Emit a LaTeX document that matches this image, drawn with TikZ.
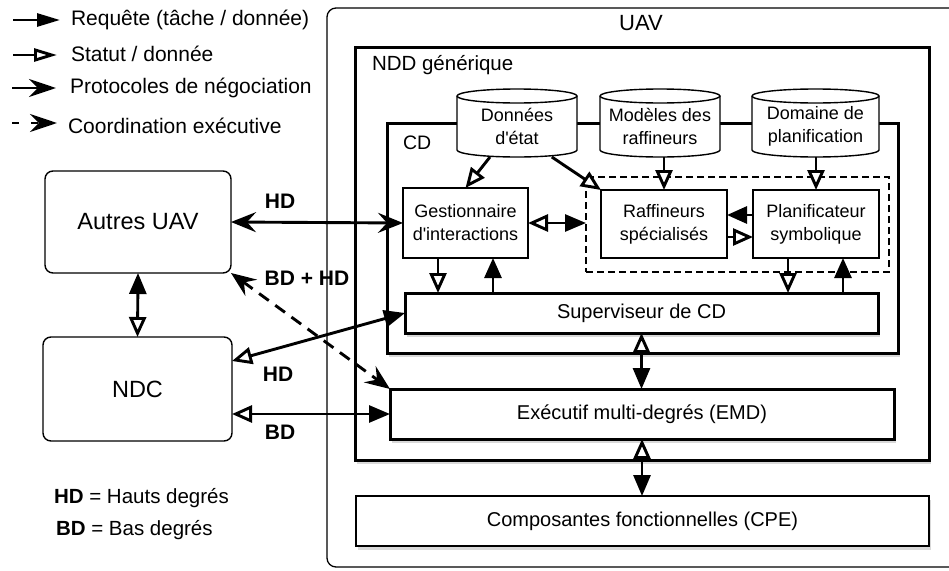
\documentclass[tikz,border=0pt]{standalone}
\usepackage{fontspec}
\newfontfamily\lsans{Liberation Sans}
\usetikzlibrary{arrows.meta,shadows,calc}
\begin{document}
\begin{tikzpicture}[x=1pt,y=-1pt,
  every node/.style={inner sep=0pt, outer sep=0pt},
  shd/.style={drop shadow={shadow xshift=1.5pt, shadow yshift=-4pt, opacity=0.3}},
  bigbox/.style={draw, line width=3pt, fill=white, shd},
  box/.style={draw, line width=2.8pt, fill=white, align=center, font=\lsans\fontsize{18}{23}\selectfont},
  wide/.style={draw, line width=3pt, fill=white, shd, font=\lsans\fontsize{20}{24}\selectfont},
  ext/.style={draw, line width=1.4pt, rounded corners=8pt, fill=white, font=\lsans\fontsize{23.5}{28}\selectfont},
  cyl/.style={draw, line width=1.4pt, fill=white},
  cyltext/.style={align=center, font=\lsans\fontsize{18}{23}\selectfont, minimum width=120pt, minimum height=62pt},
  conn/.style={line width=2.9pt},
  toreq/.style={arrows={-Triangle[length=20pt,width=17pt]}},
  tosta/.style={arrows={-Triangle[open,length=20pt,width=17pt,fill=white]}},
  stareq/.style={arrows={Triangle[open,length=20pt,width=17pt,fill=white]-Triangle[length=21pt,width=17pt]}},
  reqsta/.style={arrows={Triangle[length=21pt,width=17pt]-Triangle[open,length=20pt,width=17pt,fill=white]}},
  negneg/.style={arrows={Stealth[length=25pt,width=20pt,inset=9pt]-Stealth[length=25pt,width=20pt,inset=9pt]}},
  legreq/.style={arrows={-Triangle[length=23pt,width=13pt]}},
  legsta/.style={arrows={-Triangle[open,length=23pt,width=13pt,fill=white]}},
  legneg/.style={arrows={-Stealth[length=27pt,width=18pt,inset=9pt]}},
  lbl/.style={font=\lsans\bfseries\fontsize{21}{25}\selectfont},
  leg/.style={anchor=west, font=\lsans\fontsize{21}{25}\selectfont},
]
\useasboundingbox (0,0) rectangle (949,570);

% UAV container
\node[draw, line width=1.3pt, rounded corners=9pt, minimum width=648pt, minimum height=559pt] (uav) at (651,287.5) {};
\node[font=\lsans\fontsize{22}{26}\selectfont] (uavlbl) at (641,23) {UAV};

% NDD
\node[bigbox, minimum width=574pt, minimum height=413pt] (ndd) at (642,253.5) {};
\node[anchor=west, font=\lsans\fontsize{20.5}{24}\selectfont] (nddlbl) at (372,65) {NDD générique};

% CD
\node[bigbox, minimum width=511pt, minimum height=230pt] (cd) at (642.5,238) {};
\node[anchor=west, font=\lsans\fontsize{19.5}{24}\selectfont] (cdlbl) at (403,143) {CD};

% cylinders
\draw[cyl] (457,96) -- (457,150) arc[start angle=180,end angle=360,x radius=60pt,y radius=7pt] -- (577,96) arc[start angle=0,end angle=180,x radius=60pt,y radius=7pt] -- cycle;
\draw[line width=1.4pt] (457,96) arc[start angle=180,end angle=360,x radius=60pt,y radius=7pt];
\node[cyltext] (don) at (517,126) {Données\\d'état};

\draw[cyl] (600,96) -- (600,150) arc[start angle=180,end angle=360,x radius=60pt,y radius=7pt] -- (720,96) arc[start angle=0,end angle=180,x radius=60pt,y radius=7pt] -- cycle;
\draw[line width=1.4pt] (600,96) arc[start angle=180,end angle=360,x radius=60pt,y radius=7pt];
\node[cyltext] (mod) at (660,126) {Modèles des\\raffineurs};

\draw[cyl] (752,96) -- (752,150) arc[start angle=180,end angle=360,x radius=63.5pt,y radius=7pt] -- (879,96) arc[start angle=0,end angle=180,x radius=63.5pt,y radius=7pt] -- cycle;
\draw[line width=1.4pt] (752,96) arc[start angle=180,end angle=360,x radius=63.5pt,y radius=7pt];
\node[cyltext, minimum width=127pt] (dom) at (815.5,126) {Domaine de\\planification};

% inner boxes
\node[draw, dash pattern=on 7pt off 4pt, line width=1.4pt, minimum width=303pt, minimum height=95pt] (dsh) at (737.5,224.5) {};
\node[box, minimum width=125pt, minimum height=70pt] (gest) at (465.5,223) {Gestionnaire\\d'interactions};
\node[box, minimum width=126pt, minimum height=68pt] (raff) at (664,224) {Raffineurs\\spécialisés};
\node[box, minimum width=126pt, minimum height=68pt] (plan) at (816,224) {Planificateur\\symbolique};

\node[wide, minimum width=473pt, minimum height=40pt] (sup) at (641.5,313) {Superviseur de CD};
\node[wide, minimum width=504pt, minimum height=50pt] (exe) at (642,414) {Exécutif multi-degrés (EMD)};
\node[wide, line width=2pt, minimum width=573pt, minimum height=50pt] (comp) at (642.5,521) {Composantes fonctionnelles (CPE)};

% external nodes
\node[ext, minimum width=186pt, minimum height=102pt] (autres) at (138,222) {Autres UAV};
\node[ext, minimum width=189pt, minimum height=104pt] (ndc) at (137.5,389) {NDC};

% connectors outside
\draw[conn,negneg] (autres.east) -- (gest.west);
\draw[conn,negneg,dash pattern=on 12pt off 8pt] (autres.south east) -- (exe.north west);
\draw[conn,stareq] ([yshift=28pt]ndc.east) -- (sup.west);
\draw[conn,stareq] (exe.west -| ndc.east) -- (exe.west);
\draw[conn,reqsta] (autres.south) -- (ndc.north);

% connectors inside
\draw[conn,tosta] ($(don.south west)!0.275!(don.south east)$) -- (gest.north);
\draw[conn,tosta] ($(don.south west)!0.79!(don.south east)$) -- (raff.north west);
\draw[conn,tosta] (raff.north |- mod.south) -- (raff.north);
\draw[conn,tosta] (plan.north |- dom.south) -- (plan.north);
\draw[conn,stareq] (gest.east) -- (gest.east -| dsh.west);
\draw[conn,toreq] ([yshift=9pt]plan.west) -- ([yshift=9pt]raff.east);
\draw[conn,tosta] ([yshift=-13pt]raff.east) -- ([yshift=-13pt]plan.west);

\coordinate (g1) at ([xshift=35pt]gest.south west);
\coordinate (g2) at ([xshift=90pt]gest.south west);
\coordinate (p1) at ([xshift=35pt]plan.south west);
\coordinate (p2) at ([xshift=90pt]plan.south west);
\draw[conn,tosta] (g1) -- (g1 |- sup.north);
\draw[conn,toreq] (g2 |- sup.north) -- (g2);
\draw[conn,tosta] (p1) -- (p1 |- sup.north);
\draw[conn,toreq] (p2 |- sup.north) -- (p2);
\draw[conn,stareq] (sup.south) -- (sup.south |- exe.north);
\draw[conn,stareq] (exe.south) -- (exe.south |- comp.north);

% labels
\node[lbl] (lhd1) at (280,201) {HD};
\node[lbl] (lbdhd) at (307,278) {BD + HD};
\node[lbl] (lhd2) at (278,374) {HD};
\node[lbl] (lbd) at (280,432) {BD};

% legend top-left
\coordinate (l1a) at (13,20); \coordinate (l1b) at (60,20);
\coordinate (l2a) at (13,55); \coordinate (l2b) at (57,55);
\coordinate (l3a) at (12,88); \coordinate (l3b) at (56,88);
\coordinate (l4a) at (12,123); \coordinate (l4b) at (57,123);
\draw[conn,legreq] (l1a) -- (l1b);
\draw[conn,legsta] (l2a) -- (l2b);
\draw[conn,legneg] (l3a) -- (l3b);
\draw[conn,legneg,dash pattern=on 7pt off 12pt] (l4a) -- (l4b);
\node[leg] (t1) at (71,20) {Requête (tâche / donnée)};
\node[leg] (t2) at (71,54) {Statut / donnée};
\node[leg] (t3) at (70,88) {Protocoles de négociation};
\node[leg] (t4) at (68,126) {Coordination exécutive};

% legend bottom-left
\node[leg, font=\lsans\fontsize{20.5}{24}\selectfont] (hdleg) at (54,498) {\textbf{HD} = Hauts degrés};
\node[leg, font=\lsans\fontsize{20.5}{24}\selectfont] (bdleg) at (56,530) {\textbf{BD} = Bas degrés};
\end{tikzpicture}
\end{document}
